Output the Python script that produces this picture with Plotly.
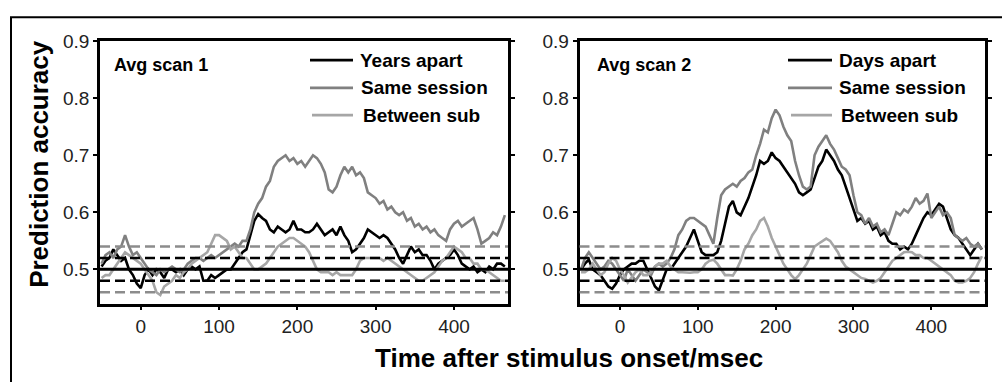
import plotly.graph_objects as go

W, H = 1002, 382

# time axis (ms after stimulus onset)
time_ms = [-50, -45, -40, -35, -30, -25, -20, -15, -10, -5,
           0, 5, 10, 15, 20, 25, 30, 35, 40, 45,
           50, 55, 60, 65, 70, 75, 80, 85, 90, 95,
           100, 105, 110, 115, 120, 125, 130, 135, 140, 145,
           150, 155, 160, 165, 170, 175, 180, 185, 190, 195,
           200, 205, 210, 215, 220, 225, 230, 235, 240, 245,
           250, 255, 260, 265, 270, 275, 280, 285, 290, 295,
           300, 305, 310, 315, 320, 325, 330, 335, 340, 345,
           350, 355, 360, 365, 370, 375, 380, 385, 390, 395,
           400, 405, 410, 415, 420, 425, 430, 435, 440, 445,
           450, 455, 460, 465]

# Panel 1 (Avg scan 1)
scan1_years_apart = [0.505, 0.515, 0.52, 0.535, 0.525, 0.515, 0.52, 0.50, 0.49, 0.475,
                     0.467, 0.49, 0.50, 0.49, 0.50, 0.495, 0.485, 0.50, 0.50, 0.495,
                     0.50, 0.49, 0.50, 0.505, 0.50, 0.505, 0.48, 0.48, 0.49, 0.485,
                     0.49, 0.495, 0.50, 0.50, 0.51, 0.52, 0.53, 0.535, 0.56, 0.585,
                     0.597, 0.59, 0.585, 0.57, 0.565, 0.575, 0.57, 0.565, 0.57, 0.585,
                     0.57, 0.57, 0.565, 0.565, 0.57, 0.58, 0.57, 0.56, 0.565, 0.57,
                     0.56, 0.575, 0.56, 0.55, 0.53, 0.535, 0.545, 0.555, 0.57, 0.565,
                     0.56, 0.555, 0.56, 0.555, 0.545, 0.535, 0.52, 0.51, 0.525, 0.54,
                     0.53, 0.535, 0.525, 0.525, 0.515, 0.50, 0.51, 0.515, 0.52, 0.525,
                     0.535, 0.525, 0.51, 0.505, 0.50, 0.505, 0.495, 0.50, 0.495, 0.505,
                     0.50, 0.51, 0.51, 0.505]
scan1_same_session = [0.51, 0.525, 0.53, 0.52, 0.535, 0.54, 0.56, 0.54, 0.525, 0.53,
                      0.52, 0.51, 0.50, 0.495, 0.49, 0.50, 0.495, 0.50, 0.505, 0.50,
                      0.495, 0.50, 0.51, 0.515, 0.52, 0.52, 0.515, 0.52, 0.525, 0.52,
                      0.525, 0.53, 0.535, 0.54, 0.545, 0.54, 0.55, 0.55, 0.57, 0.60,
                      0.615, 0.625, 0.645, 0.655, 0.68, 0.69, 0.695, 0.70, 0.69, 0.695,
                      0.685, 0.69, 0.68, 0.69, 0.70, 0.695, 0.685, 0.67, 0.64, 0.635,
                      0.645, 0.665, 0.68, 0.67, 0.68, 0.665, 0.67, 0.66, 0.635, 0.63,
                      0.625, 0.615, 0.62, 0.605, 0.61, 0.60, 0.595, 0.60, 0.585, 0.59,
                      0.575, 0.58, 0.57, 0.575, 0.565, 0.57, 0.56, 0.555, 0.55, 0.57,
                      0.58, 0.585, 0.575, 0.58, 0.585, 0.59, 0.57, 0.545, 0.55, 0.555,
                      0.565, 0.56, 0.575, 0.595]
scan1_between_sub = [0.485, 0.49, 0.49, 0.50, 0.51, 0.52, 0.53, 0.525, 0.52, 0.515,
                     0.51, 0.50, 0.49, 0.48, 0.46, 0.455, 0.47, 0.475, 0.48, 0.49,
                     0.485, 0.495, 0.50, 0.51, 0.515, 0.52, 0.525, 0.53, 0.545, 0.56,
                     0.56, 0.555, 0.55, 0.535, 0.54, 0.53, 0.52, 0.52, 0.51, 0.50,
                     0.50, 0.505, 0.51, 0.52, 0.53, 0.54, 0.545, 0.55, 0.555, 0.555,
                     0.55, 0.545, 0.54, 0.53, 0.515, 0.50, 0.495, 0.495, 0.495, 0.49,
                     0.495, 0.49, 0.49, 0.49, 0.49, 0.50, 0.515, 0.52, 0.52, 0.52,
                     0.52, 0.52, 0.515, 0.52, 0.515, 0.51, 0.505, 0.50, 0.495, 0.49,
                     0.485, 0.48, 0.48, 0.485, 0.49, 0.495, 0.505, 0.515, 0.52, 0.53,
                     0.54, 0.535, 0.53, 0.52, 0.52, 0.51, 0.51, 0.50, 0.50, 0.495,
                     0.49, 0.485, 0.48, 0.48]

# Panel 2 (Avg scan 2)
scan2_days_apart = [0.50, 0.51, 0.517, 0.50, 0.495, 0.49, 0.48, 0.47, 0.466, 0.475,
                    0.49, 0.50, 0.505, 0.51, 0.51, 0.515, 0.515, 0.50, 0.485, 0.47,
                    0.463, 0.48, 0.50, 0.50, 0.51, 0.52, 0.53, 0.54, 0.555, 0.57,
                    0.55, 0.53, 0.525, 0.525, 0.525, 0.53, 0.55, 0.58, 0.61, 0.62,
                    0.60, 0.595, 0.61, 0.625, 0.645, 0.665, 0.69, 0.685, 0.69, 0.705,
                    0.695, 0.69, 0.68, 0.67, 0.66, 0.65, 0.635, 0.63, 0.635, 0.64,
                    0.66, 0.68, 0.69, 0.71, 0.70, 0.69, 0.675, 0.665, 0.645, 0.625,
                    0.605, 0.585, 0.59, 0.58, 0.585, 0.57, 0.575, 0.56, 0.565, 0.55,
                    0.545, 0.545, 0.535, 0.54, 0.535, 0.545, 0.56, 0.575, 0.59, 0.60,
                    0.595, 0.605, 0.615, 0.61, 0.59, 0.57, 0.56, 0.555, 0.545, 0.535,
                    0.525, 0.535, 0.545, 0.535]
scan2_same_session = [0.50, 0.52, 0.53, 0.52, 0.51, 0.50, 0.505, 0.515, 0.51, 0.50,
                      0.49, 0.48, 0.50, 0.49, 0.48, 0.49, 0.50, 0.495, 0.49, 0.505,
                      0.51, 0.505, 0.51, 0.52, 0.535, 0.56, 0.57, 0.585, 0.59, 0.59,
                      0.585, 0.58, 0.575, 0.56, 0.545, 0.59, 0.63, 0.64, 0.645, 0.65,
                      0.645, 0.655, 0.66, 0.67, 0.675, 0.70, 0.72, 0.745, 0.74, 0.765,
                      0.78, 0.77, 0.75, 0.735, 0.725, 0.69, 0.665, 0.645, 0.64, 0.645,
                      0.70, 0.715, 0.725, 0.735, 0.72, 0.71, 0.695, 0.68, 0.675, 0.665,
                      0.63, 0.60, 0.595, 0.58, 0.59, 0.575, 0.58, 0.565, 0.57, 0.56,
                      0.58, 0.60, 0.595, 0.605, 0.60, 0.61, 0.625, 0.615, 0.62, 0.633,
                      0.59, 0.60, 0.61, 0.595, 0.60, 0.59, 0.56, 0.555, 0.55, 0.555,
                      0.545, 0.54, 0.545, 0.535]
scan2_between_sub = [0.495, 0.495, 0.50, 0.51, 0.50, 0.49, 0.495, 0.51, 0.52, 0.515,
                     0.50, 0.49, 0.477, 0.485, 0.495, 0.50, 0.49, 0.49, 0.495, 0.505,
                     0.51, 0.51, 0.515, 0.505, 0.50, 0.495, 0.495, 0.494, 0.494, 0.495,
                     0.495, 0.50, 0.51, 0.515, 0.517, 0.51, 0.50, 0.49, 0.49, 0.489,
                     0.50, 0.515, 0.535, 0.545, 0.56, 0.57, 0.585, 0.59, 0.575, 0.555,
                     0.54, 0.525, 0.51, 0.50, 0.49, 0.483, 0.49, 0.50, 0.51, 0.525,
                     0.54, 0.545, 0.55, 0.554, 0.55, 0.54, 0.53, 0.515, 0.505, 0.50,
                     0.495, 0.49, 0.485, 0.483, 0.48, 0.477, 0.48, 0.485, 0.495, 0.505,
                     0.515, 0.52, 0.525, 0.53, 0.531, 0.53, 0.525, 0.525, 0.52, 0.52,
                     0.515, 0.51, 0.505, 0.50, 0.495, 0.49, 0.48, 0.477, 0.477, 0.48,
                     0.485, 0.495, 0.51, 0.523]

panel_titles = ["Avg scan 1", "Avg scan 2"]
series_names = [["Years apart", "Same session", "Between sub"],
                ["Days apart", "Same session", "Between sub"]]
panel_data = [[scan1_years_apart, scan1_same_session, scan1_between_sub],
              [scan2_days_apart, scan2_same_session, scan2_between_sub]]
series_colors = ["#000000", "#808080", "#a6a6a6"]

# chance level and significance bands
ref_levels = [0.46, 0.48, 0.50, 0.52, 0.54]
ref_colors = ["#8c8c8c", "#000000", "#000000", "#000000", "#8c8c8c"]
ref_dash = ["10px,5px", "10px,5px", "solid", "10px,5px", "10px,5px"]

y_ticks = [0.5, 0.6, 0.7, 0.8, 0.9]
y_tick_text = ["0.5", "0.6", "0.7", "0.8", "0.9"]
x_ticks = [0, 100, 200, 300, 400]
x_tick_text = ["0", "100", "200", "300", "400"]

FONT = "Liberation Sans, Arial, sans-serif"

def px_x(p):
    return p / W

def px_y(p):
    return 1 - p / H

x_domains = [[px_x(100), px_x(508)], [px_x(579.5), px_x(985)]]
y_domain = [px_y(301.5), px_y(32)]

fig = go.Figure()
for i in range(2):
    xa = "x" if i == 0 else "x2"
    ya = "y" if i == 0 else "y2"
    for k in range(3):
        fig.add_trace(go.Scatter(
            x=time_ms, y=panel_data[i][k], mode="lines",
            name=series_names[i][k], showlegend=False,
            line=dict(color=series_colors[k], width=2.6),
            xaxis=xa, yaxis=ya))

axis_common = dict(showgrid=False, zeroline=False, showline=True,
                   linecolor="black", linewidth=2.5, ticks="outside",
                   ticklen=4, tickwidth=1.5, tickcolor="black",
                   tickfont=dict(family=FONT, size=19, color="#222222"))

layout = dict(width=W, height=H, margin=dict(l=0, r=0, t=0, b=0),
              paper_bgcolor="white", plot_bgcolor="white", showlegend=False)
for i in range(2):
    sx = "" if i == 0 else "2"
    layout["xaxis" + sx] = dict(axis_common, domain=x_domains[i], range=[-52, 469],
                                tickvals=x_ticks, ticktext=x_tick_text, mirror=True,
                                anchor="y" + sx)
    layout["yaxis" + sx] = dict(axis_common, domain=y_domain, range=[0.44, 0.9],
                                tickvals=y_ticks, ticktext=y_tick_text, mirror="ticks",
                                anchor="x" + sx)
fig.update_layout(**layout)

shapes = []
for i in range(2):
    sx = "" if i == 0 else "2"
    for lv, c, d in zip(ref_levels, ref_colors, ref_dash):
        shapes.append(dict(type="line", xref="x" + sx + " domain", yref="y" + sx,
                           x0=0, x1=1, y0=lv, y1=lv, layer="above",
                           line=dict(color=c, width=3 if d == "solid" else 2.6, dash=d)))

# outer frame
shapes.append(dict(type="rect", xref="paper", yref="paper",
                   x0=px_x(11), x1=1.02, y0=-0.02, y1=px_y(7.5),
                   line=dict(color="black", width=2), fillcolor="rgba(0,0,0,0)"))

annotations = []
# legends (sample line + label) and panel titles
legend_pos = [
    [(310, 353, 358, 51.5), (310, 353, 359, 80), (312, 353, 361, 108)],
    [(788, 832, 837, 51.5), (788, 832, 837, 80), (791, 832, 839, 108)],
]
title_pos = [(111.5, 56.5), (595, 56.5)]
for i in range(2):
    tx, ty = title_pos[i]
    annotations.append(dict(xref="paper", yref="paper", x=px_x(tx), y=px_y(ty),
                            xanchor="left", yanchor="middle", showarrow=False,
                            text="<b>" + panel_titles[i] + "</b>",
                            font=dict(family=FONT, size=18, color="black")))
    for k in range(3):
        lx0, lx1, tx, ty = legend_pos[i][k]
        shapes.append(dict(type="line", xref="paper", yref="paper",
                           x0=px_x(lx0), x1=px_x(lx1), y0=px_y(ty), y1=px_y(ty),
                           line=dict(color=series_colors[k], width=2.6)))
        annotations.append(dict(xref="paper", yref="paper", x=px_x(tx), y=px_y(ty),
                                xanchor="left", yanchor="middle", showarrow=False,
                                text="<b>" + series_names[i][k] + "</b>",
                                font=dict(family=FONT, size=19, color="black")))

annotations.append(dict(xref="paper", yref="paper", x=px_x(569), y=px_y(357),
                        xanchor="center", yanchor="middle", showarrow=False,
                        text="<b>Time after stimulus onset/msec</b>",
                        font=dict(family=FONT, size=26, color="black")))
annotations.append(dict(xref="paper", yref="paper", x=px_x(39), y=px_y(158),
                        xanchor="center", yanchor="middle", showarrow=False,
                        textangle=-90,
                        text="<b>Prediction accuracy</b>",
                        font=dict(family=FONT, size=26, color="black")))

fig.update_layout(shapes=shapes, annotations=annotations)
fig.write_html("out.html")
